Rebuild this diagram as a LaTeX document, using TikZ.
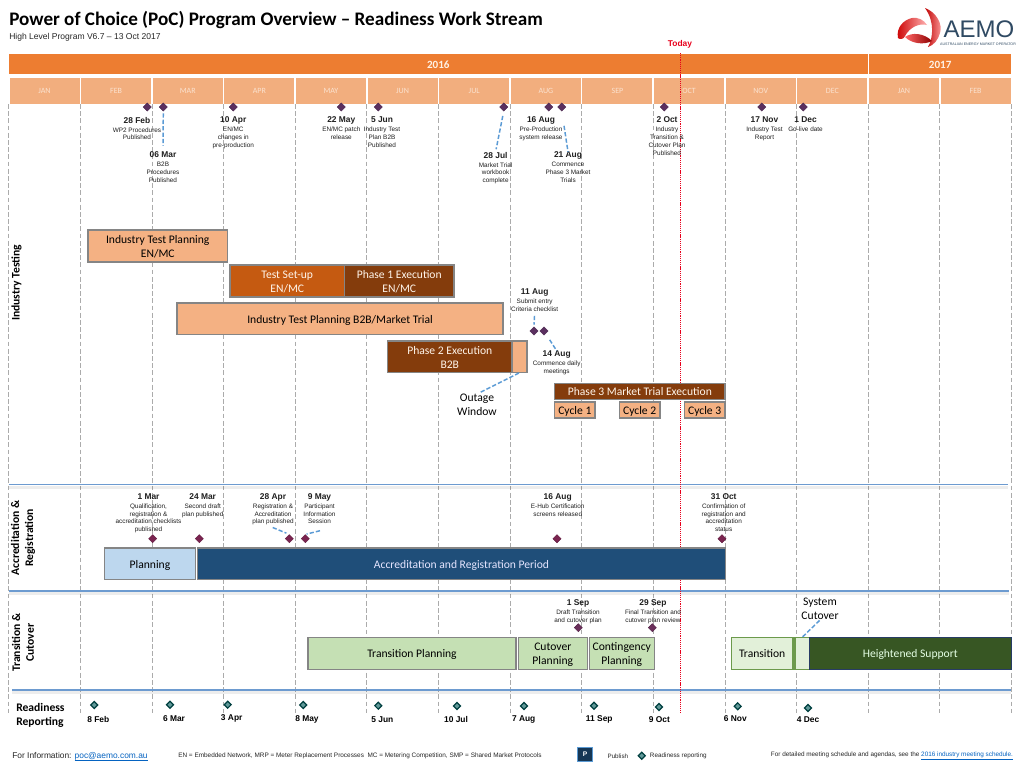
\documentclass[tikz,border=0pt]{standalone}
\usepackage{fontspec}
\setmainfont{Liberation Sans}
\newfontfamily\calibrifont{Carlito}
\usetikzlibrary{shapes.geometric,calc}
\definecolor{yearbar}{HTML}{ED7D31}
\definecolor{monthbar}{HTML}{F2AE7E}
\definecolor{monthtxt}{HTML}{FBE2CF}
\definecolor{gridc}{HTML}{ABABAB}
\definecolor{leadc}{HTML}{5B9BD5}
\definecolor{secline}{HTML}{6D9BD0}
\definecolor{peach}{HTML}{F4B183}
\definecolor{orangedk}{HTML}{C55A11}
\definecolor{brownbar}{HTML}{843C0C}
\definecolor{bargrey}{HTML}{858585}
\definecolor{bluelt}{HTML}{BDD7EE}
\definecolor{bluedk}{HTML}{1F4E79}
\definecolor{greenmd}{HTML}{C5E0B4}
\definecolor{greenlt}{HTML}{E2F0D9}
\definecolor{greenbd}{HTML}{6C9A4C}
\definecolor{greendk}{HTML}{375623}
\definecolor{linkc}{HTML}{0563C1}
\definecolor{todayc}{HTML}{E8001C}
\definecolor{aemoc}{HTML}{2F4A63}
\definecolor{msviolet}{HTML}{5B3060}
\definecolor{msmaroon}{HTML}{7B2450}
\definecolor{msplum}{HTML}{6B2F5B}
\newcommand\barstart{}
\newcommand\barstop{}
\newcommand\gbarstart{\vrule height 8.6pt depth 0pt width 0pt\relax}
\newcommand\gbarstop{\vrule height 0pt depth 2pt width 0pt\relax}
\newcommand\ybarstart{\vrule height 6.9pt depth 0pt width 0pt\relax}
\tikzset{
  x=0.75pt,y=-0.75pt,
  gbar/.style={draw=bargrey,line width=.9pt,inner sep=0pt,outer sep=0pt,align=center,
    font=\calibrifont\fontsize{8.7}{10.4}\selectfont,
    execute at begin node={\let\barstart\gbarstart\let\barstop\gbarstop}},
  peachbar/.style={gbar,fill=peach,text=black},
  orangebar/.style={gbar,fill=orangedk,text=white!92!orange},
  brownfill/.style={gbar,fill=brownbar,text=white!92!orange},
  msdiam/.style={diamond,aspect=1,inner sep=0pt,minimum size=6.2pt,fill=#1,draw=#1!80!black,line width=.3pt},
  rdiam/.style={diamond,aspect=1,inner sep=0pt,minimum size=5.6pt,fill=teal!55!gray!80,draw=black!50!teal,line width=.9pt},
  msnote/.style={anchor=north,inner sep=0pt,align=center,text=black!88,font=\fontsize{4.8}{5.8}\selectfont},
  rdate/.style={inner sep=0pt,font=\bfseries\fontsize{6.3}{7}\selectfont},
  lead/.style={draw=leadc,line width=1.1pt,dash pattern=on 3.2pt off 1.6pt},
  sectext/.style={inner sep=0pt,align=center,rotate=90,font=\calibrifont\bfseries\fontsize{8.7}{10.4}\selectfont},
  plain/.style={inner sep=0pt,align=center,font=\calibrifont\fontsize{8.7}{10.4}\selectfont},
  foot/.style={inner sep=0pt,anchor=west,text=black!85},
  monthcell/.style={fill=monthbar,text=monthtxt,inner sep=0pt,outer sep=0pt,font=\calibrifont\fontsize{6}{7}\selectfont},
  yearcell/.style={fill=yearbar,text=white!90!orange,inner sep=0pt,outer sep=0pt,font=\calibrifont\bfseries\fontsize{8.3}{10}\selectfont,
    execute at begin node={\let\barstart\ybarstart}},
}
\newcommand\barbox[7]{\node[#6,minimum width={(#4-#2)*0.75pt},minimum height={(#5-#3)*0.75pt}] (#1) at ({(#2+#4)/2},{(#3+#5)/2}) {\barstart #7\barstop};}
\newcommand\mslabel[5]{\node[msnote] (#1) at (#2,#3+0.8) {{\bfseries\fontsize{6.3}{5.8}\selectfont #4}\\[0.9pt]#5};}
\newcommand\linktext[1]{\textcolor{linkc}{\underline{\smash{#1}}}}
\begin{document}
\begin{tikzpicture}
\useasboundingbox (0,0) rectangle (1024,768);
\fill[white] (0,0) rectangle (1024,768);
% header text
\node[inner sep=0pt,anchor=west,font=\calibrifont\bfseries\fontsize{14.35}{16}\selectfont] (title) at (9,20.5) {Power of Choice (PoC) Program Overview – Readiness Work Stream};
\node[foot,font=\fontsize{6.4}{8}\selectfont] (subtitle) at (9,37) {High Level Program V6.7 – 13 Oct 2017};
% logo
\begin{scope}
\shade[left color=red!75!black,right color=red!35!white,draw=none]
  (925,8) .. controls (936,12) and (943,24) .. (940,33) .. controls (938,40) and (934,45) .. (928,47)
  .. controls (933,38) and (935,22) .. (925,8) -- cycle;
\shade[left color=red!80!black,right color=red!30!white,draw=none]
  (898,38) .. controls (896,28) and (903,20) .. (912,18) .. controls (918,17) and (924,20) .. (927,25)
  .. controls (919,23) and (910,27) .. (905,36) .. controls (904,39) and (900,40) .. (898,38) -- cycle;
\shade[left color=red!60!white,right color=red!55!black,draw=none]
  (905,37) .. controls (912,32) and (924,33) .. (932,41) .. controls (924,45) and (912,44) .. (905,37) -- cycle;
\end{scope}
\node[inner sep=0pt,text=aemoc,font=\fontsize{18}{19}\selectfont] (aemo) at (979,29.2) {AEMO};
\node[inner sep=0pt,text=aemoc,font=\fontsize{2.7}{3}\selectfont] (aemosub) at (978,44.5) {AUSTRALIAN ENERGY MARKET OPERATOR};
% year bars
\barbox{y2016}{9}{54}{867.5}{74}{yearcell}{2016}
\barbox{y2017}{869}{54}{1011.4}{74}{yearcell}{2017}
% month bars
\foreach \i/\m in {0/JAN,1/FEB,2/MAR,3/APR,4/MAY,5/JUN,6/JUL,7/AUG,8/SEP,9/OCT,10/NOV,11/DEC,12/JAN,13/FEB}{
  \pgfmathsetmacro\xa{8.7+71.62*\i+0.8}
  \pgfmathsetmacro\xb{8.7+71.62*(\i+1)-0.8}
  \barbox{m\i}{\xa}{78}{\xb}{103.5}{monthcell}{\m}
}
% grid
\foreach \i in {0,...,14}{
  \pgfmathsetmacro\xa{8.7+71.62*\i}
  \draw[gridc,line width=.6pt,dash pattern=on 3.6pt off 1.8pt] (\xa,104) -- (\xa,713);
}
% section rules
\foreach \ya/\xs/\xe in {484.7/9/1008,591/9/1008.7,690/12/1011.4}{
  \draw[black,opacity=.07,line width=2.2pt] (\xs,\ya+2.6) -- (\xe,\ya+2.6);
  \draw[secline,line width=.85pt] (\xs,\ya) -- (\xe,\ya);
}
% today
\node[inner sep=0pt,text=todayc,font=\bfseries\fontsize{6.3}{7}\selectfont] (today) at (680,44.3) {Today};
\draw[todayc,line width=.9pt,dash pattern=on .9pt off .7pt] (680.7,53) -- (680.7,713);
% top milestones
\foreach \n/\x in {a/147.3,b/163.3,c/233.3,d/341.3,e/378.3,f/503.7,g/548.8,h/561.8,i/664.3,j/761.8,k/803.3}{
  \node[msdiam=msviolet] (d\n) at (\x,107) {};
}
\mslabel{la}{137}{116}{28 Feb}{WP2 Procedures\\Published}
\mslabel{lb}{163}{151}{06 Mar}{B2B\\Procedures\\Published}
\mslabel{lc}{233.3}{116}{10 Apr}{EN/MC\\changes in\\pre-production}
\mslabel{ld}{341.3}{116}{22 May}{EN/MC patch\\release}
\mslabel{le}{382}{116}{5 Jun}{Industry Test\\Plan B2B\\Published}
\mslabel{lf}{495.6}{151}{28 Jul}{Market Trial\\workbook\\complete}
\mslabel{lg}{541}{116}{16 Aug}{Pre-Production\\system release}
\mslabel{lh}{568}{151}{21 Aug}{Commence\\Phase 3 Market\\Trials}
\mslabel{li}{667}{116}{2 Oct}{Industry\\Transition \&\\Cutover Plan\\Published}
\mslabel{lj}{764.5}{116}{17 Nov}{Industry Test\\Report}
\mslabel{lk}{805.5}{116}{1 Dec}{Go-live date}
\draw[lead,shorten <=1.5pt,shorten >=4.5pt] (db.south) -- (lb.north);
\draw[lead,shorten <=3.5pt,shorten >=2pt] (df.south) -- (lf.north);
\draw[lead,shorten <=11pt] (dh.south) -- (lh.north);
% industry testing
\node[sectext] (sec1) at (16.5,282.7) {Industry Testing};
\barbox{itp}{88}{230}{227.5}{262}{peachbar}{Industry Test Planning\\EN/MC}
\barbox{setup}{230}{265}{344.5}{297}{orangebar}{Test Set-up\\EN/MC}
\barbox{ph1}{344.5}{265}{454}{297}{brownfill}{Phase 1 Execution\\EN/MC}
\barbox{itpb}{177}{303}{503}{334.7}{peachbar}{Industry Test Planning B2B/Market Trial}
\barbox{ph2}{387.5}{341}{512}{372.7}{brownfill}{Phase 2 Execution\\B2B}
\barbox{outbox}{512}{341}{527}{372.7}{peachbar}{}
\node[plain] (outage) at (477,405) {Outage\\Window};
\draw[lead,shorten >=2.2pt,shorten <=.5pt] (outbox.south) -- (outage.north);
\node[msdiam=msviolet] (daug11) at (534,331) {};
\node[msdiam=msviolet] (daug14) at (544,331) {};
\mslabel{laug11}{534.7}{288}{11 Aug}{Submit entry\\Criteria checklist}
\mslabel{laug14}{556.7}{350}{14 Aug}{Commence daily\\meetings}
\draw[lead,shorten <=3pt,shorten >=1.5pt] (laug11.south) -- (daug11.north);
\draw[lead,shorten <=5.5pt] (daug14) -- (laug14.north);
\barbox{ph3}{554.7}{383.3}{725}{399.3}{brownfill}{Phase 3 Market Trial Execution}
\barbox{cy1}{554.7}{402}{595}{418}{peachbar}{Cycle 1}
\barbox{cy2}{619.3}{402}{660}{418}{peachbar}{Cycle 2}
\barbox{cy3}{684.3}{402}{725}{418}{peachbar}{Cycle 3}
% accreditation
\node[sectext] (sec2) at (23,538) {Accreditation \&\\Registration};
\foreach \n/\x in {a/152.7,b/199.3,c/289.3,d/305.3,e/557,f/722}{
  \node[msdiam=msmaroon] (ad\n) at (\x,538.7) {};
}
\mslabel{ra}{148.5}{492.5}{1 Mar}{Qualification,\\registration \&\\accreditation checklists\\published}
\mslabel{rb}{202.7}{492.5}{24 Mar}{Second draft\\plan published}
\mslabel{rc}{273}{492.5}{28 Apr}{Registration \&\\Accreditation\\plan published}
\mslabel{rd}{319.5}{492.5}{9 May}{Participant\\Information\\Session}
\mslabel{re}{557.7}{492.5}{16 Aug}{E-Hub Certification\\screens released}
\mslabel{rf}{723.7}{492.5}{31 Oct}{Confirmation of\\registration and\\accreditation\\status}
\coordinate (apr28end) at (272.7,527.5);
\coordinate (may9end) at (320,530.7);
\draw[lead,shorten >=2.4pt] (apr28end) -- (adc.north);
\draw[lead,shorten >=1pt] (may9end) -- (add.north);
\barbox{plan}{104.3}{548}{195.7}{579.3}{gbar,fill=bluelt,text=black}{Planning}
\barbox{accper}{197.7}{548}{725.3}{579.3}{gbar,fill=bluedk,text=white!90!blue}{Accreditation and Registration Period}
% transition
\node[sectext] (sec3) at (23,642.7) {Transition \&\\Cutover};
\node[msdiam=msplum] (t1) at (578.3,627.7) {};
\node[msdiam=msplum] (t2) at (652.3,627.7) {};
\mslabel{tl1}{578}{599}{1 Sep}{Draft Transition\\and cutover plan}
\mslabel{tl2}{653}{599}{29 Sep}{Final Transition and\\cutover plan review}
\node[plain] (syscut) at (820,609) {System\\Cutover};
\barbox{tplan}{308}{637.3}{516}{669.3}{gbar,fill=greenmd,text=black}{Transition Planning}
\barbox{cplan}{518.3}{637.3}{587.3}{669.3}{gbar,fill=greenmd,text=black}{Cutover\\Planning}
\barbox{coplan}{589.3}{637.3}{654.3}{669.3}{gbar,fill=greenmd,text=black}{Contingency\\Planning}
\barbox{trans}{731.3}{637.3}{793}{669.3}{gbar,draw=greenbd,line width=.8pt,fill=greenlt,text=black}{Transition}
\barbox{cutbox}{795}{637.3}{809.3}{669.3}{gbar,draw=greenbd,line width=.8pt,fill=greenlt}{}
\barbox{hsup}{809.3}{637.3}{1011.3}{669.3}{gbar,draw=blue!30!greendk,line width=.7pt,fill=greendk,text=white!90!green}{Heightened Support}
\draw[lead,shorten <=.5pt] (syscut.south) -- (cutbox.north);
% readiness
\node[inner sep=0pt,align=left,anchor=west,font=\calibrifont\bfseries\fontsize{8.7}{10.4}\selectfont] (sec4) at (16,715) {Readiness\\Reporting};
\foreach \n/\x/\y/\lx/\ly/\t in {a/94.3/705/98.3/719/8 Feb,b/170/704.7/174/718.7/6 Mar,c/227.7/704.7/231.7/718.7/3 Apr,d/303.3/705/307/719.3/8 May,e/378.3/705.7/382.3/719.7/5 Jun,f/457/706/456/719.3/10 Jul,g/524/706/523.7/719.7/7 Aug,h/594/705.7/599.3/719.3/11 Sep,i/659/707/659.3/719.3/9 Oct,j/737.7/706.3/735.3/719/6 Nov,k/808/708/808/719.3/4 Dec}{
  \node[rdiam] (p\n) at (\x,\y) {};
  \node[rdate] (q\n) at (\lx,\ly) {\t};
}
% footer
\node[foot,font=\fontsize{6.3}{8}\selectfont] (forinfo) at (12,756.5) {For Information: \linktext{poc@aemo.com.au}};
\node[foot,font=\fontsize{4.82}{6}\selectfont] (legend) at (178,755.8) {EN = Embedded Network, MRP = Meter Replacement Processes\ \ MC = Metering Competition, SMP = Shared Market Protocols};
\node[fill=bluedk!70!black,draw=leadc,line width=.4pt,text=white,inner sep=0pt,minimum width=11pt,minimum height=11pt,font=\bfseries\fontsize{5}{6}\selectfont] (pbox) at (585,754.2) {P};
\node[foot,font=\fontsize{4.7}{6}\selectfont] (publish) at (607.3,756) {Publish};
\node[rdiam] (pkey) at (641.7,755.7) {};
\node[foot,font=\fontsize{4.75}{6}\selectfont] (rrkey) at (649.7,755.5) {Readiness reporting};
\node[foot,font=\fontsize{4.78}{6}\selectfont] (detail) at (770.7,756) {For detailed meeting schedule and agendas, see the \linktext{2016 industry meeting schedule.}};
\end{tikzpicture}
\end{document}
